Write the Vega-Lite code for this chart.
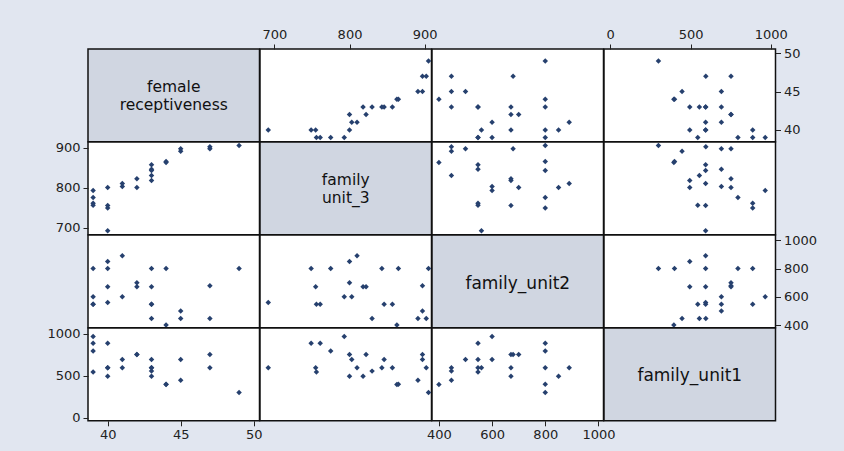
{
  "$schema": "https://vega.github.io/schema/vega-lite/v6.json",
  "background": "#e1e6f0",
  "padding": {"left": 46, "top": 27, "right": 34, "bottom": 10},
  "data": {"values": [
    {"fr": 49, "fu3": 905, "fu2": 800, "fu1": 300},
    {"fr": 47, "fu3": 902, "fu2": 447, "fu1": 595},
    {"fr": 47, "fu3": 897, "fu2": 679, "fu1": 752},
    {"fr": 45, "fu3": 891, "fu2": 447, "fu1": 447},
    {"fr": 45, "fu3": 897, "fu2": 500, "fu1": 692},
    {"fr": 44, "fu3": 863, "fu2": 400, "fu1": 396},
    {"fr": 44, "fu3": 865, "fu2": 800, "fu1": 400},
    {"fr": 43, "fu3": 857, "fu2": 547, "fu1": 594},
    {"fr": 43, "fu3": 846, "fu2": 547, "fu1": 692},
    {"fr": 43, "fu3": 843, "fu2": 800, "fu1": 594},
    {"fr": 43, "fu3": 830, "fu2": 447, "fu1": 555},
    {"fr": 43, "fu3": 818, "fu2": 671, "fu1": 495},
    {"fr": 42, "fu3": 822, "fu2": 671, "fu1": 752},
    {"fr": 42, "fu3": 800, "fu2": 700, "fu1": 752},
    {"fr": 41, "fu3": 803, "fu2": 600, "fu1": 692},
    {"fr": 41, "fu3": 810, "fu2": 890, "fu1": 594},
    {"fr": 40, "fu3": 800, "fu2": 850, "fu1": 495},
    {"fr": 40, "fu3": 749, "fu2": 800, "fu1": 887},
    {"fr": 40, "fu3": 755, "fu2": 671, "fu1": 594},
    {"fr": 40, "fu3": 692, "fu2": 560, "fu1": 594},
    {"fr": 39, "fu3": 793, "fu2": 600, "fu1": 965},
    {"fr": 39, "fu3": 775, "fu2": 800, "fu1": 795},
    {"fr": 39, "fu3": 761, "fu2": 547, "fu1": 887},
    {"fr": 39, "fu3": 756, "fu2": 547, "fu1": 545}
  ]},
  "columns": 4,
  "spacing": 0,
  "bounds": "flush",
  "concat": [
      {"width": 171.5, "height": 92.8, "data": {"values": [{"label": "female receptiveness"}]}, "view": {"fill": "#d0d6e1", "stroke": "#111111", "strokeWidth": 1.5},
       "mark": {"type": "text", "font": "DejaVu Sans", "fontSize": 15.5, "color": "#111", "lineBreak": " ", "lineHeight": 18, "dy": -8},
       "encoding": {"text": {"field": "label", "type": "nominal"}}},
      {"width": 171.5, "height": 92.8, "mark": {"type": "point", "shape": "diamond", "filled": true, "size": 30, "color": "#26406e", "opacity": 1, "strokeWidth": 0},
       "encoding": {
         "x": {"field": "fu3", "type": "quantitative", "scale": {"domain": [681, 909], "nice": false, "zero": false}, "axis": {"orient": "top", "values": [700, 800, 900], "title": null}},
         "y": {"field": "fr", "type": "quantitative", "scale": {"domain": [38.45, 50.55], "nice": false, "zero": false}, "axis": null}}},
      {"width": 171.5, "height": 92.8, "mark": {"type": "point", "shape": "diamond", "filled": true, "size": 30, "color": "#26406e", "opacity": 1, "strokeWidth": 0},
       "encoding": {
         "x": {"field": "fu2", "type": "quantitative", "scale": {"domain": [374, 1019], "nice": false, "zero": false}, "axis": null},
         "y": {"field": "fr", "type": "quantitative", "scale": {"domain": [38.45, 50.55], "nice": false, "zero": false}, "axis": null}}},
      {"width": 171.5, "height": 92.8, "mark": {"type": "point", "shape": "diamond", "filled": true, "size": 30, "color": "#26406e", "opacity": 1, "strokeWidth": 0},
       "encoding": {
         "x": {"field": "fu1", "type": "quantitative", "scale": {"domain": [-39, 1029], "nice": false, "zero": false}, "axis": {"orient": "top", "values": [0, 500, 1000], "format": "d", "title": null}},
         "y": {"field": "fr", "type": "quantitative", "scale": {"domain": [38.45, 50.55], "nice": false, "zero": false}, "axis": {"orient": "right", "values": [40, 45, 50], "title": null}}}},
      {"width": 171.5, "height": 92.8, "mark": {"type": "point", "shape": "diamond", "filled": true, "size": 30, "color": "#26406e", "opacity": 1, "strokeWidth": 0},
       "encoding": {
         "x": {"field": "fr", "type": "quantitative", "scale": {"domain": [38.65, 50.4], "nice": false, "zero": false}, "axis": null},
         "y": {"field": "fu3", "type": "quantitative", "scale": {"domain": [682, 914], "nice": false, "zero": false}, "axis": {"orient": "left", "values": [700, 800, 900], "title": null}}}},
      {"width": 171.5, "height": 92.8, "data": {"values": [{"label": "family unit_3"}]}, "view": {"fill": "#d0d6e1", "stroke": "#111111", "strokeWidth": 1.5},
       "mark": {"type": "text", "font": "DejaVu Sans", "fontSize": 15.5, "color": "#111", "lineBreak": " ", "lineHeight": 18, "dy": -8},
       "encoding": {"text": {"field": "label", "type": "nominal"}}},
      {"width": 171.5, "height": 92.8, "mark": {"type": "point", "shape": "diamond", "filled": true, "size": 30, "color": "#26406e", "opacity": 1, "strokeWidth": 0},
       "encoding": {
         "x": {"field": "fu2", "type": "quantitative", "scale": {"domain": [374, 1019], "nice": false, "zero": false}, "axis": null},
         "y": {"field": "fu3", "type": "quantitative", "scale": {"domain": [682, 914], "nice": false, "zero": false}, "axis": null}}},
      {"width": 171.5, "height": 92.8, "mark": {"type": "point", "shape": "diamond", "filled": true, "size": 30, "color": "#26406e", "opacity": 1, "strokeWidth": 0},
       "encoding": {
         "x": {"field": "fu1", "type": "quantitative", "scale": {"domain": [-39, 1029], "nice": false, "zero": false}, "axis": null},
         "y": {"field": "fu3", "type": "quantitative", "scale": {"domain": [682, 914], "nice": false, "zero": false}, "axis": null}}},
      {"width": 171.5, "height": 92.8, "mark": {"type": "point", "shape": "diamond", "filled": true, "size": 30, "color": "#26406e", "opacity": 1, "strokeWidth": 0},
       "encoding": {
         "x": {"field": "fr", "type": "quantitative", "scale": {"domain": [38.65, 50.4], "nice": false, "zero": false}, "axis": null},
         "y": {"field": "fu2", "type": "quantitative", "scale": {"domain": [381, 1037], "nice": false, "zero": false}, "axis": null}}},
      {"width": 171.5, "height": 92.8, "mark": {"type": "point", "shape": "diamond", "filled": true, "size": 30, "color": "#26406e", "opacity": 1, "strokeWidth": 0},
       "encoding": {
         "x": {"field": "fu3", "type": "quantitative", "scale": {"domain": [681, 909], "nice": false, "zero": false}, "axis": null},
         "y": {"field": "fu2", "type": "quantitative", "scale": {"domain": [381, 1037], "nice": false, "zero": false}, "axis": null}}},
      {"width": 171.5, "height": 92.8, "data": {"values": [{"label": "family_unit2"}]}, "view": {"fill": "#d0d6e1", "stroke": "#111111", "strokeWidth": 1.5},
       "mark": {"type": "text", "font": "DejaVu Sans", "fontSize": 17, "color": "#111", "lineBreak": " ", "lineHeight": 18, "dy": 3},
       "encoding": {"text": {"field": "label", "type": "nominal"}}},
      {"width": 171.5, "height": 92.8, "mark": {"type": "point", "shape": "diamond", "filled": true, "size": 30, "color": "#26406e", "opacity": 1, "strokeWidth": 0},
       "encoding": {
         "x": {"field": "fu1", "type": "quantitative", "scale": {"domain": [-39, 1029], "nice": false, "zero": false}, "axis": null},
         "y": {"field": "fu2", "type": "quantitative", "scale": {"domain": [381, 1037], "nice": false, "zero": false}, "axis": {"orient": "right", "values": [400, 600, 800, 1000], "format": "d", "title": null}}}},
      {"width": 171.5, "height": 92.8, "mark": {"type": "point", "shape": "diamond", "filled": true, "size": 30, "color": "#26406e", "opacity": 1, "strokeWidth": 0},
       "encoding": {
         "x": {"field": "fr", "type": "quantitative", "scale": {"domain": [38.65, 50.4], "nice": false, "zero": false}, "axis": {"orient": "bottom", "values": [40, 45, 50], "title": null}},
         "y": {"field": "fu1", "type": "quantitative", "scale": {"domain": [-35, 1067], "nice": false, "zero": false}, "axis": {"orient": "left", "values": [0, 500, 1000], "format": "d", "title": null}}}},
      {"width": 171.5, "height": 92.8, "mark": {"type": "point", "shape": "diamond", "filled": true, "size": 30, "color": "#26406e", "opacity": 1, "strokeWidth": 0},
       "encoding": {
         "x": {"field": "fu3", "type": "quantitative", "scale": {"domain": [681, 909], "nice": false, "zero": false}, "axis": null},
         "y": {"field": "fu1", "type": "quantitative", "scale": {"domain": [-35, 1067], "nice": false, "zero": false}, "axis": null}}},
      {"width": 171.5, "height": 92.8, "mark": {"type": "point", "shape": "diamond", "filled": true, "size": 30, "color": "#26406e", "opacity": 1, "strokeWidth": 0},
       "encoding": {
         "x": {"field": "fu2", "type": "quantitative", "scale": {"domain": [374, 1019], "nice": false, "zero": false}, "axis": {"orient": "bottom", "values": [400, 600, 800, 1000], "format": "d", "title": null}},
         "y": {"field": "fu1", "type": "quantitative", "scale": {"domain": [-35, 1067], "nice": false, "zero": false}, "axis": null}}},
      {"width": 171.5, "height": 92.8, "data": {"values": [{"label": "family_unit1"}]}, "view": {"fill": "#d0d6e1", "stroke": "#111111", "strokeWidth": 1.5},
       "mark": {"type": "text", "font": "DejaVu Sans", "fontSize": 17, "color": "#111", "lineBreak": " ", "lineHeight": 18, "dy": 2},
       "encoding": {"text": {"field": "label", "type": "nominal"}}}
  ],
  "config": {
    "view": {"fill": "white", "stroke": "#111111", "strokeWidth": 1.5},
    "axis": {"grid": false, "domain": false, "ticks": true, "tickSize": 5, "tickColor": "#222222", "tickWidth": 1,
             "labelFont": "DejaVu Sans", "labelFontSize": 13, "labelColor": "#222222", "labelPadding": 3,
             "labelFlush": false, "labelOverlap": false}
  }
}
